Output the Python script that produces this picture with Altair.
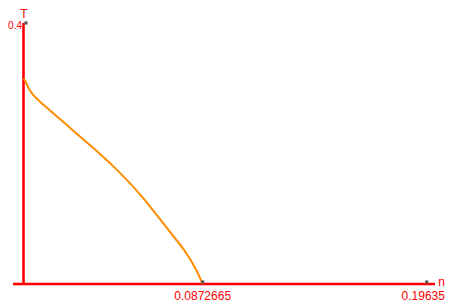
import altair as alt
import pandas as pd

# curve values
n_vals = [0.0, 0.00099, 0.00172, 0.00292, 0.00462, 0.00655, 0.00849, 0.01187, 0.01491,
          0.02153, 0.02878, 0.03685, 0.04328, 0.05053, 0.05778, 0.06503, 0.07228,
          0.07871, 0.08195, 0.08437, 0.0872665]
T_vals = [0.3149, 0.3103, 0.3050, 0.2981, 0.2904, 0.2838, 0.2782, 0.2690, 0.2605,
          0.2425, 0.2225, 0.2005, 0.1818, 0.1588, 0.1335, 0.1050, 0.0759,
          0.0498, 0.0337, 0.0199, 0.0]

x_ticks = [0.0872665, 0.19635]
x_tick_labels = ["0.0872665", "0.19635"]
x_label_shift = [0, -3.5]
y_ticks = [0.4]
y_tick_labels = ["0.4"]
x_title = "n"
y_title = "T"

x_min, x_max = -0.005113, 0.20136
x_axis_end = 0.20039
y_min, y_max = 0.0, 0.4

RED = "#ff0000"
FONT = "Liberation Sans"

xs = alt.Scale(domain=[x_min, x_max], nice=False, zero=False)
ys = alt.Scale(domain=[y_min, y_max], nice=False, zero=False)


def X(f):
    return alt.X(f, scale=xs, axis=None)


def Y(f):
    return alt.Y(f, scale=ys, axis=None)


curve_df = pd.DataFrame({"n": n_vals, "T": T_vals})
curve = alt.Chart(curve_df).mark_line(color="#ff8c00", strokeWidth=2, interpolate="monotone").encode(
    x=X("n:Q"), y=Y("T:Q"), order="n:Q",
)

xaxis_df = pd.DataFrame({"a": [x_min], "b": [x_axis_end], "T": [0.0]})
xaxis = alt.Chart(xaxis_df).mark_rule(color=RED, strokeWidth=2.6).encode(
    x=X("a:Q"), x2="b:Q", y=Y("T:Q")
)
yaxis_df = pd.DataFrame({"n": [0.0], "a": [y_min], "b": [y_max]})
yaxis = alt.Chart(yaxis_df).mark_rule(color=RED, strokeWidth=2.6).encode(
    x=X("n:Q"), y=Y("a:Q"), y2="b:Q"
)

xt_df = pd.DataFrame({"n": x_ticks, "T": [0.0] * len(x_ticks), "label": x_tick_labels})
xtick_marks = alt.Chart(xt_df).mark_square(color="#555555", size=10, opacity=1).encode(
    x=X("n:Q"), y=Y("T:Q"), yOffset=alt.value(-2)
)
xtick_labels = [
    alt.Chart(xt_df.iloc[[i]]).mark_text(color=RED, font=FONT, fontSize=12, baseline="top", dy=7,
                                         dx=x_label_shift[i]).encode(
        x=X("n:Q"), y=Y("T:Q"), text="label:N"
    )
    for i in range(len(x_ticks))
]

yt_df = pd.DataFrame({"n": [0.0] * len(y_ticks), "T": y_ticks, "label": y_tick_labels})
ytick_marks = alt.Chart(yt_df).mark_square(color="#555555", size=10, opacity=1).encode(
    x=X("n:Q"), y=Y("T:Q"), xOffset=alt.value(2.5)
)
ytick_labels = alt.Chart(yt_df).mark_text(color=RED, font=FONT, fontSize=10, align="right", dx=-1.5, dy=2.5).encode(
    x=X("n:Q"), y=Y("T:Q"), text="label:N"
)

ytitle_df = pd.DataFrame({"n": [0.0], "T": [y_max], "label": [y_title]})
ytitle = alt.Chart(ytitle_df).mark_text(color=RED, font=FONT, fontSize=12, baseline="top", dx=0.5, dy=-14.5).encode(
    x=X("n:Q"), y=Y("T:Q"), text="label:N"
)
xtitle_df = pd.DataFrame({"n": [x_max], "T": [0.0], "label": [x_title]})
xtitle = alt.Chart(xtitle_df).mark_text(color=RED, font=FONT, fontSize=12, dx=4.5, dy=-2).encode(
    x=X("n:Q"), y=Y("T:Q"), text="label:N"
)

chart = alt.layer(yaxis, xaxis, curve, xtick_marks, ytick_marks, *xtick_labels, ytick_labels, ytitle, xtitle).properties(
    width=424, height=261,
    padding={"left": 5, "top": 15, "right": 9, "bottom": 21},
    autosize=alt.AutoSizeParams(type="none"),
).configure_view(stroke=None)

chart.save("out.html", embed_options={"renderer": "svg", "actions": False})
